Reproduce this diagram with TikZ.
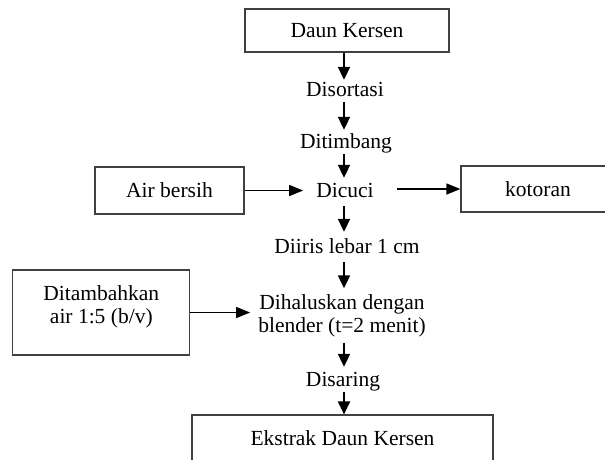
\documentclass[tikz,border=0pt]{standalone}
\usepackage{fontspec}
\setmainfont{Liberation Serif}
\usetikzlibrary{arrows.meta}
\begin{document}
\begin{tikzpicture}[x=1pt,y=-1pt,
  box/.style={draw=black!75, line width=1.2pt, rectangle, inner sep=0pt, align=center,
    font=\fontsize{21.5}{23.5}\selectfont},
  txt/.style={inner xsep=0pt, inner ysep=0pt, text height=16pt, text depth=6pt,
    font=\fontsize{21.5}{23.5}\selectfont},
  arr/.style={line width=2pt, -{Triangle[length=13pt,width=12pt]}},
  harr/.style={line width=1.4pt, -{Triangle[length=14pt,width=11pt]}}]
\useasboundingbox (0,0) rectangle (605,459);
\clip (0,0) rectangle (605,459);
\coordinate (stem) at (344,0);
% boxes
\node[box, minimum width=204pt, minimum height=43pt] (daun) at (347,30.5) {Daun Kersen};
\node[box, minimum width=149pt, minimum height=47pt] (air) at (169.5,190.5) {Air bersih};
\node[box, minimum width=200pt, minimum height=46pt] (kotoran) at (561,189) {kotoran\hspace*{46pt}};
\node[box, minimum width=177pt, minimum height=85pt] (tambah) at (101.3,312.5)
  {Ditambahkan\\air 1:5 (b/v)\rule[-16pt]{0pt}{1pt}};
\node[box, minimum width=301pt, minimum height=47pt] (ekstrak) at (342.5,438.5) {Ekstrak Daun Kersen};
% process texts
\node[txt, anchor=base] (sort) at (345,96) {Disortasi};
\node[txt, anchor=base] (timbang) at (346,148) {Ditimbang};
\node[txt, anchor=base] (cuci) at (345,197) {Dicuci};
\node[txt, anchor=base] (iris) at (347,253) {Diiris lebar 1 cm};
\node[align=center, inner sep=0pt, font=\fontsize{21.5}{23.5}\selectfont] (halus) at (342,316)
  {Dihaluskan dengan\\blender (t=2 menit)};
\node[txt, anchor=base] (saring) at (343,386) {Disaring};
% vertical arrows
\draw[arr] (stem |- daun.south) -- (stem |- sort.north);
\draw[arr, shorten >=2pt] (stem |- sort.south) -- (stem |- timbang.north);
\draw[arr, shorten >=3pt] (stem |- timbang.south) -- (stem |- cuci.north);
\draw[arr, shorten <=3pt, shorten >=5pt] (stem |- cuci.south) -- (stem |- iris.north);
\draw[arr, shorten <=3pt, shorten >=6pt] (stem |- iris.south) -- (stem |- halus.north);
\draw[arr, shorten <=5pt, shorten >=3pt] (stem |- halus.south) -- (stem |- saring.north);
\draw[arr] (stem |- saring.south) -- (stem |- ekstrak.north);
% horizontal arrows
\draw[harr, shorten >=13pt] (air.east) -- (air.east -| cuci.west);
\draw[harr, shorten <=23pt] (kotoran.west -| cuci.east) -- (kotoran.west);
\draw[harr, shorten >=8pt] (tambah.east) -- (tambah.east -| halus.west);
\end{tikzpicture}
\end{document}
